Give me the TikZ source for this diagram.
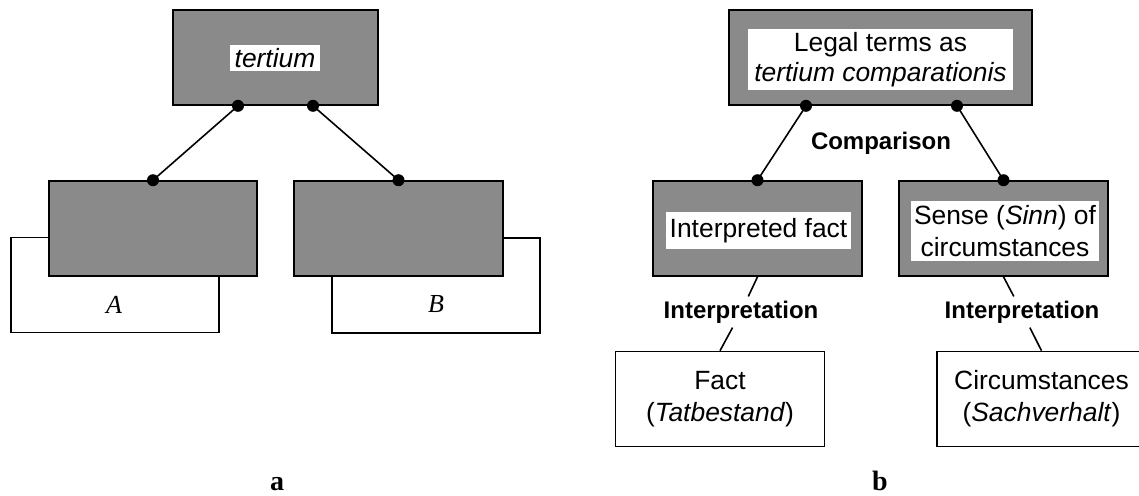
\documentclass[tikz,border=0pt]{standalone}
\usepackage{fontspec}
\setmainfont{Liberation Serif}
\setsansfont{Liberation Sans}
\definecolor{boxgray}{RGB}{138,138,138}
\begin{document}
\begin{tikzpicture}[x=0.5pt,y=-0.5pt,
  frame/.style={draw=black, line width=0.8pt, inner sep=0pt},
  graybox/.style={frame, fill=boxgray, minimum height=47.5pt},
  plainbox/.style={frame, fill=white, minimum height=47.5pt, align=center,
    font=\sffamily\fontsize{13.2}{16}\selectfont},
  tag/.style={fill=white, inner sep=0pt, align=center,
    font=\sffamily\fontsize{13.2}{15}\selectfont},
  stage/.style={fill=white, inner sep=2pt,
    font=\sffamily\bfseries\fontsize{12}{14}\selectfont},
  letter/.style={font=\itshape\fontsize{13}{15}\selectfont},
  caption/.style={anchor=base, inner sep=0pt, font=\bfseries\fontsize{14}{16}\selectfont},
  link/.style={line width=0.8pt}
]
\useasboundingbox (0,0) rectangle (1139,495);

% ---------- panel a ----------
% objects A and B sit behind their grey boxes
\node[plainbox, minimum width=104pt] (boxA) at (115,284.8) {};
\node[plainbox, minimum width=104pt] (boxB) at (435.8,285.5) {};
\node[letter] (labA) at (114,305) {A};
\node[letter] (labB) at (436,304) {B};

\node[graybox, minimum width=102.5pt] (ta) at (275.5,57.5) {};
\node[tag, font=\sffamily\itshape\fontsize{13.2}{15}\selectfont,
      minimum width=45pt, minimum height=13pt] (tat) at (275,58) {tertium};
\node[graybox, minimum width=104pt] (la) at (153,228.5) {};
\node[graybox, minimum width=104.5pt] (ra) at (398.5,228.5) {};

\coordinate (ta1) at ([xshift=-18.75pt]ta.south);
\coordinate (ta2) at ([xshift=18.75pt]ta.south);
\draw[link] (ta1) -- (la.north);
\draw[link] (ta2) -- (ra.north);
\foreach \p in {ta1,ta2,la.north,ra.north} \fill (\p) circle[radius=3pt];

\node[caption] (capa) at (277,490) {a};

% ---------- panel b ----------
\node[graybox, minimum width=151.5pt] (tb) at (880.5,57.5) {};
\node[tag, minimum width=132.5pt, minimum height=30.5pt] (tbt) at (880.5,59.5)
  {Legal terms as\\\textit{tertium comparationis}};

\node[graybox, minimum width=104.5pt] (lm) at (757.5,228.5) {};
\node[tag, minimum width=92.5pt, minimum height=18.5pt] (lmt) at (758.5,230.5)
  {Interpreted fact};
\node[graybox, minimum width=104.5pt] (rm) at (1003.5,228.5) {};
\node[tag, font=\sffamily\fontsize{13.2}{16}\selectfont,
      minimum width=94pt, minimum height=30pt] (rmt) at (1005,231)
  {Sense (\textit{Sinn}) of\\circumstances};

\coordinate (tb1) at ([xshift=-37.25pt]tb.south);
\coordinate (tb2) at ([xshift=38.25pt]tb.south);
\draw[link] (tb1) -- (lm.north);
\draw[link] (tb2) -- (rm.north);
\foreach \p in {tb1,tb2,lm.north,rm.north} \fill (\p) circle[radius=3pt];

\node[stage] (cmp) at (881,143) {Comparison};

\node[plainbox, minimum width=104.5pt] (fact) at (720,399)
  {Fact\\(\textit{Tatbestand})};
\node[plainbox, minimum width=104.5pt] (circ) at (1041.5,399)
  {Circumstances\\(\textit{Sachverhalt})};

\node[stage] (il) at (741,312) {Interpretation};
\node[stage] (ir) at (1022,312) {Interpretation};
\draw[link] (lm.south) -- (il) -- (fact.north);
\draw[link] (rm.south) -- (ir) -- (circ.north);

\node[caption] (capb) at (880,490) {b};
\end{tikzpicture}
\end{document}
